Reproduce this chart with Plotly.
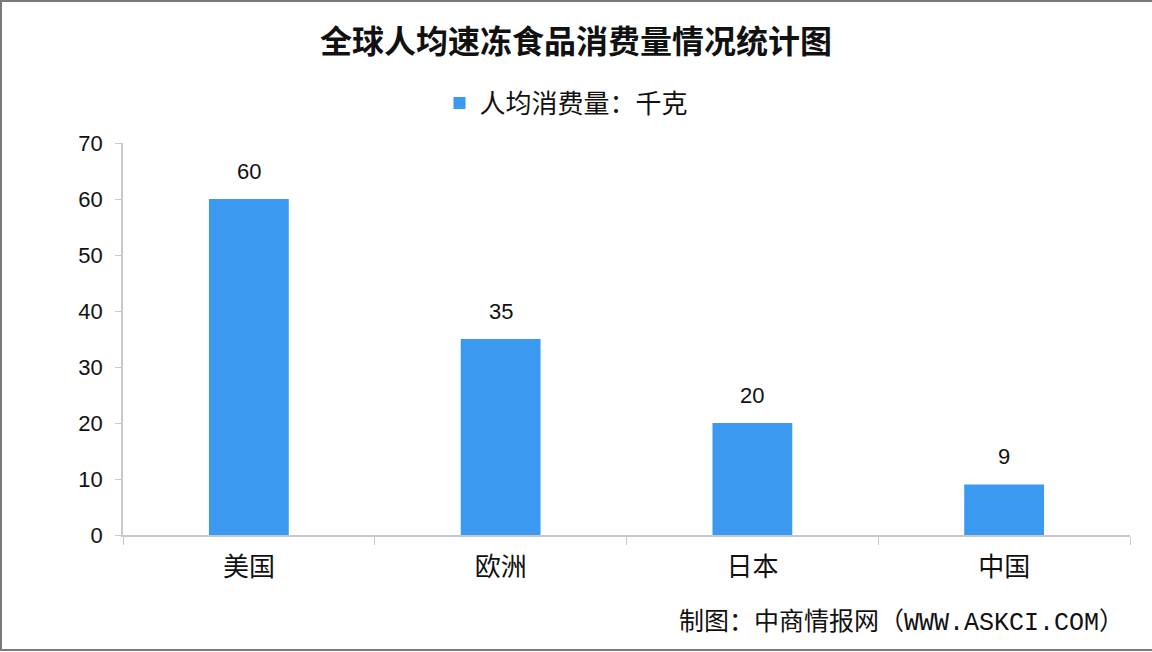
import plotly.graph_objects as go

categories = ["美国", "欧洲", "日本", "中国"]
values = [60, 35, 20, 9]
series_name = "人均消费量：千克"
title_text = "全球人均速冻食品消费量情况统计图"
source_text = "制图：中商情报网（WWW.ASKCI.COM）"

CJK = "Noto Sans CJK SC"
NUM = "Liberation Sans, Arial, Noto Sans CJK SC"

W, H = 1152, 652
L, R, T, B = 123, 22, 143, 117
PW, PH = W - L - R, H - T - B

def px_x(p):
    return (p - L) / PW

def px_y(p):
    return (H - B - p) / PH

fig = go.Figure()
fig.add_trace(go.Bar(
    x=categories, y=values, name=series_name,
    marker=dict(color="#3b99f0", line=dict(width=0)),
    showlegend=True,
))

annotations = [dict(x=c, y=v, text=str(v), xref="x", yref="y", showarrow=False,
                    yshift=28, yanchor="middle",
                    font=dict(family=NUM, size=22, color="#111111"))
               for c, v in zip(categories, values)]
annotations.append(dict(text=source_text, xref="paper", yref="paper",
                        x=px_x(1126), y=px_y(623),
                        xanchor="right", yanchor="middle", showarrow=False,
                        font=dict(family="Liberation Mono, " + CJK, size=25, color="#111111")))

fig.update_layout(
    width=W, height=H,
    paper_bgcolor="white", plot_bgcolor="white",
    margin=dict(l=L, r=R, t=T, b=B),
    bargap=0.683,
    title=dict(text="<b>" + title_text + "</b>", x=0.5, xanchor="center",
               y=1 - 42 / H, yanchor="middle",
               font=dict(family=CJK, size=32, color="#111111")),
    legend=dict(orientation="h", x=0.5 - 60 / PW, xanchor="center", y=px_y(103),
                yanchor="middle", font=dict(family=CJK, size=26, color="#111111"),
                itemwidth=30, bgcolor="rgba(0,0,0,0)"),
    xaxis=dict(showline=True, linecolor="#c8c8cc", linewidth=1.5,
               ticks="outside", ticklen=8, tickcolor="#c8c8cc", tickson="boundaries",
               ticklabelstandoff=8,
               tickfont=dict(family=CJK, size=26, color="#111111"),
               showgrid=False),
    yaxis=dict(range=[0, 70], dtick=10, showline=True, linecolor="#c8c8cc", linewidth=1.5,
               ticks="outside", ticklen=6, tickcolor="#c8c8cc",
               ticklabelstandoff=8,
               tickfont=dict(family=NUM, size=22, color="#111111"),
               showgrid=False, zeroline=False),
    annotations=annotations,
    shapes=[dict(type="rect", xref="paper", yref="paper",
                 x0=px_x(1), x1=px_x(W + 5), y0=px_y(H - 2), y1=px_y(1),
                 line=dict(color="#7a7a7a", width=2), fillcolor="rgba(0,0,0,0)",
                 layer="above")],
)

fig.write_html("out.html", config={"displayModeBar": False},
               post_script="document.body.style.margin='0';")
